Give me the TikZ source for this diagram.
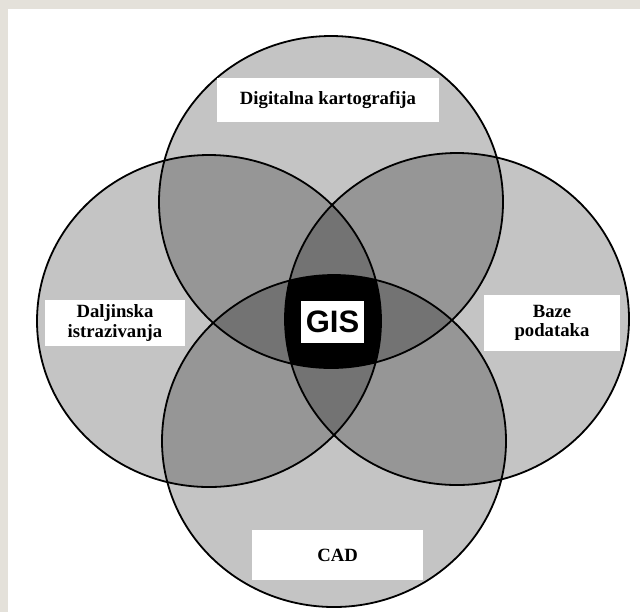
\documentclass[tikz,border=0pt]{standalone}
\usepackage{fontspec}
\setmainfont{Liberation Serif}
\setsansfont{Liberation Sans}
\usepackage{tikz}
\usetikzlibrary{calc}

\begin{document}
\begin{tikzpicture}[x=0.5pt, y=-0.5pt]

    \tikzstyle{set}=[fill=black, fill opacity=0.23];
    \tikzstyle{rim}=[draw=black, line width=0.9pt];
    \tikzstyle{tag}=[fill=white, inner sep=0pt, align=center, font=\bfseries\fontsize{9.35}{9.8}\selectfont];
    \useasboundingbox (0, 0) rectangle (640, 612);
    \fill[color={rgb,255:red,228;green,225;blue,218}] (0, 0) rectangle (640, 612);
    \fill[white] (8, 9) rectangle (640, 612);

    \coordinate (kart) at (331, 202);
    \coordinate (dalj) at (209, 321);
    \coordinate (baze) at (457, 319);
    \coordinate (cad) at (334, 441);

    \fill[set] (kart) ellipse [x radius=172, y radius=166];
    \fill[set] (dalj) ellipse [x radius=172, y radius=166];
    \fill[set] (baze) ellipse [x radius=172, y radius=166];
    \fill[set] (cad) ellipse [x radius=172, y radius=166];

    \begin{scope}
        \clip (kart) ellipse [x radius=172, y radius=166];
        \clip (dalj) ellipse [x radius=172, y radius=166];
        \clip (baze) ellipse [x radius=172, y radius=166];
        \fill[black] (cad) ellipse [x radius=172, y radius=166];
    \end{scope}

    \draw[rim] (kart) ellipse [x radius=172, y radius=166];
    \draw[rim] (dalj) ellipse [x radius=172, y radius=166];
    \draw[rim] (baze) ellipse [x radius=172, y radius=166];
    \draw[rim] (cad) ellipse [x radius=172, y radius=166];

    \node[tag, minimum width=111pt, minimum height=22pt] (t1) at (328, 100) {Digitalna kartografija};
    \node[tag, minimum width=70pt, minimum height=23pt] (t2) at (115, 323) {Daljinska\\istrazivanja};
    \node[tag, minimum width=68pt, minimum height=28pt] (t3) at (552, 323) {Baze\\podataka};
    \node[tag, minimum width=85.5pt, minimum height=25pt] (t4) at (337.5, 555) {CAD};
    \node[tag, minimum width=31.5pt, minimum height=21pt, font=\sffamily\bfseries\fontsize{15.5}{16}\selectfont] (gis) at (332.5, 322) {GIS};

\end{tikzpicture}
\end{document}
